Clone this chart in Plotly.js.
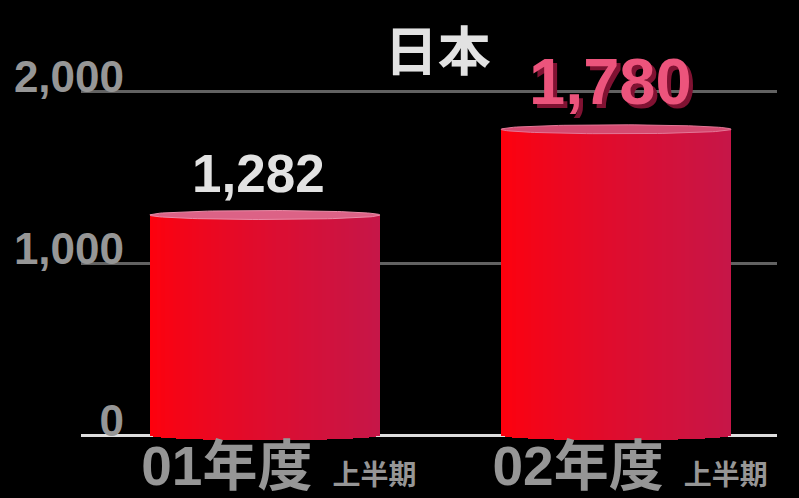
<!DOCTYPE html>
<html>
<head>
<meta charset="utf-8">
<script src="https://cdn.plot.ly/plotly-3.0.1.min.js"></script>
<style>html,body{margin:0;padding:0;background:#000;}#chart{width:799px;height:498px;}</style>
</head>
<body>
<div id="chart"></div>
<script>
// ---- data ----
const categories = ['01年度', '02年度'];
const periodLabel = '上半期';
const values = [1282, 1780];
const valueLabels = ['1,282', '1,780'];
const yTickVals = [0, 1000, 2000];
const yTickText = ['0', '1,000', '2,000'];
const chartTitle = '日本';

// ---- styling / geometry ----
const FONT = 'Liberation Sans, Arial, Noto Sans CJK JP, sans-serif';
const CJK = 'Noto Sans CJK JP, Liberation Sans, sans-serif';
const W = 0.655;          // bar width in category units
const N = 60;             // gradient strips per bar
const ELL = 26;           // ellipse half-height in data units
const leftRGB = [255, 0, 12], rightRGB = [198, 22, 72];
const topFill = ['rgb(220,98,134)', 'rgb(212,74,112)'];
const topLine = ['rgb(236,140,168)', 'rgb(228,118,150)'];

const traces = [];
// cylinder bodies made from thin vertical strips (horizontal gradient)
const sx = [], sy = [], sb = [], sc = [], sw = [];
values.forEach((v, k) => {
  for (let i = 0; i < N; i++) {
    const u = (i + 0.5) / N;           // 0..1 across the bar
    const t = u * 2 - 1;               // -1..1
    const x = k - W / 2 + u * W;
    const base = -ELL * Math.sqrt(Math.max(0, 1 - t * t));
    const c = leftRGB.map((a, j) => Math.round(a + (rightRGB[j] - a) * Math.pow(u, 0.8)));
    sx.push(x); sb.push(base); sy.push(v - base);
    sc.push(`rgb(${c[0]},${c[1]},${c[2]})`); sw.push(W / N * 1.15);
  }
});
traces.push({
  type: 'bar', x: sx, y: sy, base: sb, width: sw,
  marker: {color: sc, line: {width: 0}}, hoverinfo: 'skip', showlegend: false
});
// elliptical tops
values.forEach((v, k) => {
  const ex = [], ey = [];
  for (let i = 0; i <= 120; i++) {
    const a = i / 120 * 2 * Math.PI;
    ex.push(k + (W / 2) * Math.cos(a));
    ey.push(v + ELL * Math.sin(a));
  }
  traces.push({
    type: 'scatter', mode: 'lines', x: ex, y: ey, fill: 'toself',
    fillcolor: topFill[k], line: {color: topLine[k], width: 1},
    hoverinfo: 'skip', showlegend: false
  });
});

const annotations = values.map((v, k) => ({
  x: k, y: v, xref: 'x', yref: 'y', text: valueLabels[k], showarrow: false,
  yanchor: 'bottom', xanchor: 'center',
  xshift: -6, yshift: k === 0 ? 10 : 9,
  font: k === 0
    ? {family: FONT, size: 53, color: '#e2e2e2', weight: 700}
    : {family: FONT, size: 65, color: 'rgb(236,84,124)', weight: 700,
       shadow: '4px 4px 0px rgb(128,18,50)'}
}));

const layout = {
  width: 799, height: 498,
  paper_bgcolor: '#000', plot_bgcolor: '#000',
  margin: {l: 81, r: 22, t: 57, b: 52},
  title: {
    text: chartTitle, x: 0.548, xanchor: 'center', y: 0.895, yanchor: 'middle',
    font: {family: CJK, size: 53, color: '#e2e2e2', weight: 700}
  },
  xaxis: {
    range: [-0.5235, 1.458], tickvals: [0, 1],
    ticktext: categories.map(c => `${c}<span style="font-size:72px"> </span><span style="font-size:28px">${periodLabel}</span>`),
    tickfont: {family: FONT, size: 55, color: 'rgb(150,150,150)', weight: 700},
    showgrid: false, zeroline: false, showline: false, ticks: '',
    ticklabelstandoff: -17, ticklabelshift: 14, fixedrange: true
  },
  yaxis: {
    range: [-60, 2200], tickvals: yTickVals, ticktext: yTickText,
    tickfont: {family: FONT, size: 44, color: 'rgb(150,150,150)', weight: 700},
    showgrid: true, gridcolor: 'rgb(98,98,98)', gridwidth: 2.5,
    zeroline: true, zerolinecolor: 'rgb(222,222,222)', zerolinewidth: 2.5,
    showline: false, ticks: '', ticklabelstandoff: -44, ticklabelshift: -15,
    fixedrange: true
  },
  barmode: 'overlay', bargap: 0,
  annotations: annotations,
  showlegend: false, hovermode: false
};

Plotly.newPlot('chart', traces, layout, {displayModeBar: false, staticPlot: true});
</script>
</body>
</html>
